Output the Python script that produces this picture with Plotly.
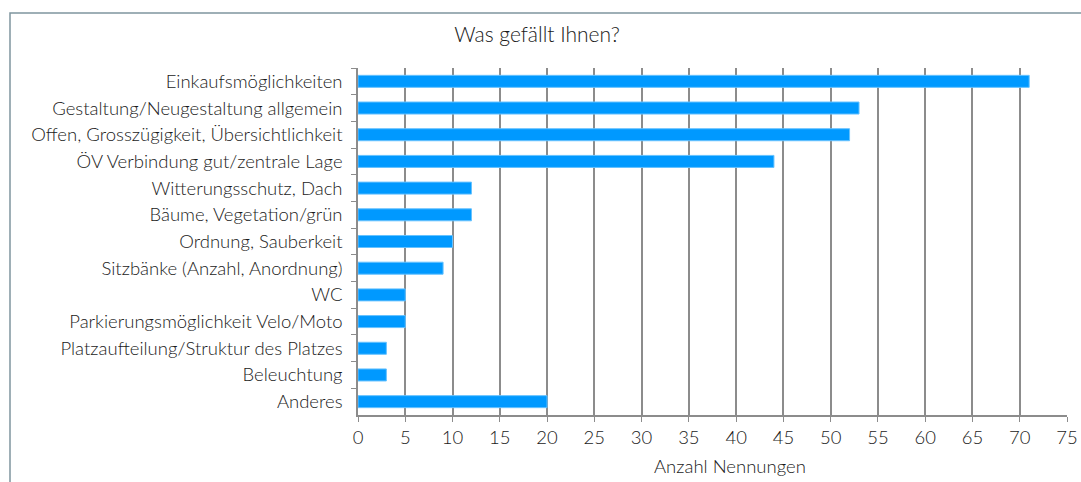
import plotly.graph_objects as go

categories = [
    "Einkaufsmöglichkeiten",
    "Gestaltung/Neugestaltung allgemein",
    "Offen, Grosszügigkeit, Übersichtlichkeit",
    "ÖV Verbindung gut/zentrale Lage",
    "Witterungsschutz, Dach",
    "Bäume, Vegetation/grün",
    "Ordnung, Sauberkeit",
    "Sitzbänke (Anzahl, Anordnung)",
    "WC",
    "Parkierungsmöglichkeit Velo/Moto",
    "Platzaufteilung/Struktur des Platzes",
    "Beleuchtung",
    "Anderes",
]
values = [71, 53, 52, 44, 12, 12, 10, 9, 5, 5, 3, 3, 20]
x_ticks = list(range(0, 80, 5))
x_title = "Anzahl Nennungen"

FONT = "Lato"
W, H = 1081, 482
L, T = 358, 68
R = W - 1067
B = H - 415
PW, PH = W - L - R, H - T - B

fig = go.Figure(go.Bar(
    y=categories, x=values, orientation="h",
    marker=dict(color="#0099FF", line=dict(color="#66c2ff", width=1)),
    width=0.45,
))
fig.update_layout(
    width=W, height=H, autosize=False,
    margin=dict(l=L, r=R, t=T, b=B),
    paper_bgcolor="white", plot_bgcolor="white",
    font=dict(family=FONT, size=18, color="#1a1a1a", weight=300),
    title=dict(text="Was gefällt Ihnen?", x=537 / W, xanchor="center",
               y=1 - 35 / H, yanchor="middle",
               font=dict(size=21, family=FONT, color="#1a1a1a", weight=300)),
    showlegend=False,
)
fig.update_xaxes(
    range=[0, 75], tickvals=x_ticks, ticktext=[str(v) for v in x_ticks],
    showgrid=True, gridcolor="#8c8c8c", gridwidth=1.5,
    showline=True, linecolor="#8c8c8c", linewidth=1.5,
    ticks="outside", ticklen=5, tickcolor="#8c8c8c",
    zeroline=False, ticklabeloverflow="allow", automargin=False,
    tickfont=dict(size=18.5),
)
fig.update_yaxes(
    categoryorder="array", categoryarray=categories, autorange="reversed",
    showline=True, linecolor="#8c8c8c", linewidth=1.5,
    ticks="outside", ticklen=5, tickcolor="#8c8c8c", tickson="boundaries",
    showgrid=False, tickfont=dict(size=18.5), ticklabelstandoff=10,
    automargin=False,
)
fig.add_annotation(text=x_title, xref="paper", yref="paper",
                   x=(730 - L) / PW, y=-(466 - (H - B)) / PH,
                   xanchor="center", yanchor="middle", showarrow=False,
                   font=dict(size=18.5, family=FONT, color="#1a1a1a", weight=300))
fig.add_shape(type="rect", xref="paper", yref="paper",
              x0=(10 - L) / PW, x1=1.3, y0=-0.6, y1=(H - B - 13) / PH,
              line=dict(color="#7f959e", width=1.5), fillcolor="rgba(0,0,0,0)", layer="below")
fig.write_html(
    "out.html",
    config={"responsive": False, "displayModeBar": False},
    post_script="document.body.style.margin='0';document.body.style.overflow='hidden';",
)
